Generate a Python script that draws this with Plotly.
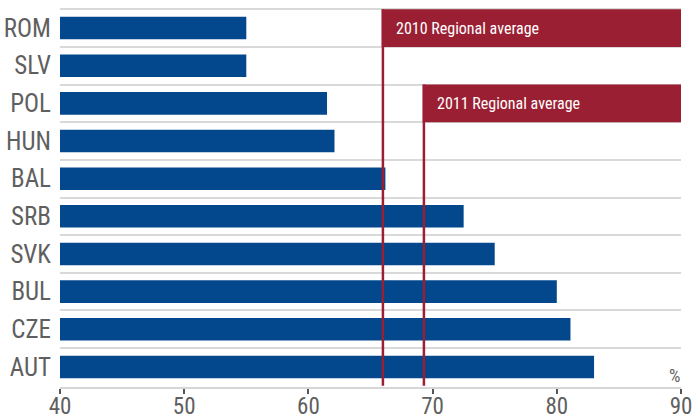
import plotly.graph_objects as go

countries = ["ROM", "SLV", "POL", "HUN", "BAL", "SRB", "SVK", "BUL", "CZE", "AUT"]
values = [55.0, 55.0, 61.5, 62.1, 66.2, 72.5, 75.0, 80.0, 81.1, 83.0]

avg_labels = ["2010 Regional average", "2011 Regional average"]
avg_values = [66.0, 69.3]
avg_rows = ["ROM", "POL"]

x_ticks = [40, 50, 60, 70, 80, 90]

BLUE = "#03478c"
RED = "#9b1f33"
GREY_TEXT = "#5f5f5f"
FONT = "Roboto Condensed, Arial Narrow, sans-serif"

fig = go.Figure()
# bars start at the left end of the value axis
fig.add_trace(go.Bar(
    x=[v - x_ticks[0] for v in values], y=countries, orientation="h",
    base=x_ticks[0], marker=dict(color=BLUE, line=dict(width=0)),
    width=0.6, hovertext=[f"{c}: {v}" for c, v in zip(countries, values)],
    hoverinfo="text",
))

shapes = []
annotations = []
for label, val, row in zip(avg_labels, avg_values, avg_rows):
    idx = countries.index(row)
    # vertical average line down to the axis
    shapes.append(dict(type="line", xref="x", yref="y",
                       x0=val, x1=val, y0=idx - 0.5, y1=len(countries) - 0.5,
                       line=dict(color=RED, width=2.5), layer="above"))
    # label box across the row
    shapes.append(dict(type="rect", xref="x", yref="y",
                       x0=val - 0.1, x1=x_ticks[-1], y0=idx - 0.5, y1=idx + 0.5,
                       fillcolor=RED, line=dict(width=0), layer="above"))
    annotations.append(dict(x=val, y=row, xref="x", yref="y", text=label,
                            showarrow=False, xanchor="left", yanchor="middle",
                            xshift=11, font=dict(family=FONT, size=16, color="white")))

# unit label in the bottom-right corner of the plot
annotations.append(dict(x=x_ticks[-1], y=0, xref="x", yref="paper",
                        text="%", showarrow=False, xanchor="right", yanchor="bottom",
                        xshift=1, yshift=-1,
                        font=dict(family=FONT, size=18, color=GREY_TEXT)))

fig.update_layout(
    width=692, height=419,
    margin=dict(l=60, r=11, t=8, b=32),
    paper_bgcolor="white", plot_bgcolor="white",
    showlegend=False,
    shapes=shapes, annotations=annotations,
    xaxis=dict(range=[x_ticks[0], x_ticks[-1]], tickvals=x_ticks,
               showgrid=False, zeroline=False, automargin=False,
               showline=True, linecolor="#d6d6d6", linewidth=2,
               ticks="outside", ticklen=5, tickwidth=1.5, tickcolor="#555555",
               ticklabelstandoff=-8, ticklabeloverflow="allow",
               tickfont=dict(family=FONT, size=23, color=GREY_TEXT)),
    yaxis=dict(type="category", categoryorder="array", categoryarray=countries,
               autorange="reversed", tickson="boundaries", automargin=False,
               showgrid=True, gridcolor="#d9d9d9", gridwidth=2,
               ticks="", showline=False, zeroline=False,
               ticklabelstandoff=8,
               tickfont=dict(family=FONT, size=25, color=GREY_TEXT)),
)

fig.write_html("out.html")
